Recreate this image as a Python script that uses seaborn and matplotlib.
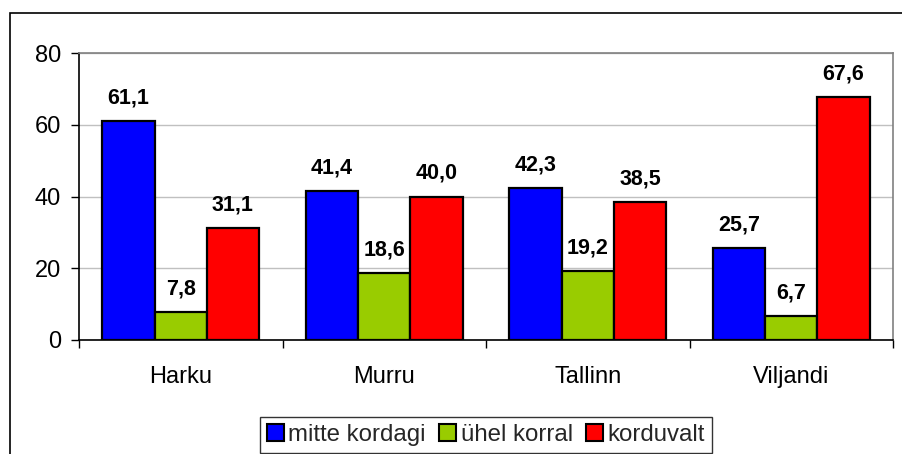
import matplotlib
matplotlib.use("Agg")
import matplotlib.pyplot as plt
import matplotlib.patches as mpatches
import pandas as pd
import seaborn as sns

# data
places = ["Harku", "Murru", "Tallinn", "Viljandi"]
groups = ["mitte kordagi", "ühel korral", "korduvalt"]
mitte_kordagi = [61.1, 41.4, 42.3, 25.7]
uhel_korral = [7.8, 18.6, 19.2, 6.7]
korduvalt = [31.1, 40.0, 38.5, 67.6]
colors = ["#0000FF", "#99CC00", "#FF0000"]

rows = []
for g, vals in zip(groups, [mitte_kordagi, uhel_korral, korduvalt]):
    for p, v in zip(places, vals):
        rows.append({"koht": p, "grupp": g, "protsent": v})
df = pd.DataFrame(rows)

sns.set_theme(style="white")
plt.rcParams["font.family"] = ["Liberation Sans", "DejaVu Sans"]

W, H = 902, 454
fig = plt.figure(figsize=(W / 100, H / 100), dpi=100)
ax = fig.add_axes([79 / W, 1 - 340 / H, (893 - 79) / W, (340 - 53) / H])

sns.barplot(data=df, x="koht", y="protsent", hue="grupp", order=places,
            hue_order=groups, palette=colors, saturation=1, width=0.77,
            edgecolor="black", linewidth=1.6, ax=ax, zorder=3)

# value labels above the bars
for cont in ax.containers:
    labels = [f"{b.get_height():.1f}".replace(".", ",") for b in cont]
    ax.bar_label(cont, labels=labels, padding=9, fontsize=15.5,
                 fontweight="bold", color="black")

ax.set_ylim(0, 80)
ax.set_xlim(-0.5, 3.5)
ax.set_yticks([0, 20, 40, 60, 80])
ax.set_xlabel("")
ax.set_ylabel("")
ax.yaxis.grid(True, color="#c0c0c0", linewidth=1, zorder=0)
ax.set_axisbelow(True)

ax.tick_params(axis="y", which="major", direction="out", length=6,
               width=1, color="black", labelsize=17, labelcolor="black",
               left=True, pad=7)
ax.tick_params(axis="x", which="major", length=0, labelsize=17,
               labelcolor="black", pad=19)
ax.set_xticks([-0.5, 0.5, 1.5, 2.5, 3.5], minor=True)
ax.tick_params(axis="x", which="minor", direction="out", length=6,
               width=1, color="black", bottom=True)

for side in ["left", "bottom"]:
    ax.spines[side].set_color("black")
    ax.spines[side].set_linewidth(1.2)
for side in ["top", "right"]:
    ax.spines[side].set_visible(True)
    ax.spines[side].set_color("#808080")
    ax.spines[side].set_linewidth(1.2)

# legend at the bottom, centred under the plot area
ax.get_legend().remove()
handles = [mpatches.Patch(facecolor=c, edgecolor="black", linewidth=1.5)
           for c in colors]
leg = fig.legend(handles, groups, loc="upper center",
                 bbox_to_anchor=(486 / W, 1 - 417 / H), ncol=3,
                 fontsize=17.3, frameon=True, fancybox=False,
                 handlelength=0.7, handleheight=0.7, handletextpad=0.2,
                 columnspacing=0.55, borderpad=0.3, borderaxespad=0)
leg.get_frame().set_edgecolor("black")
leg.get_frame().set_linewidth(1)

# outer chart border (cut off on the right and bottom like the reference)
fig.patches.append(mpatches.Rectangle((10 / W, -0.1), 1.2, (H - 13) / H + 0.1,
                                      transform=fig.transFigure, fill=False,
                                      edgecolor="black", linewidth=1.2))

fig.savefig("out.png", dpi=100, facecolor="white")
